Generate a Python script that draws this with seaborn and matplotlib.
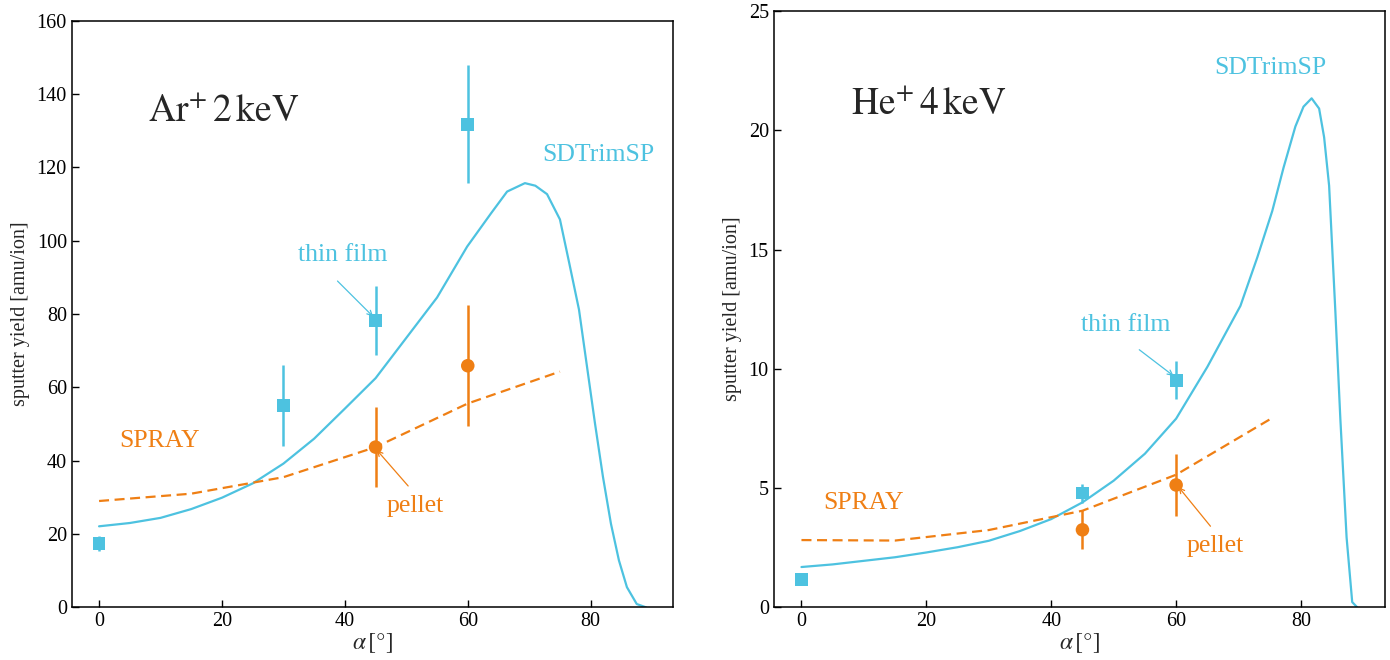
import numpy as np
import pandas as pd
import matplotlib
matplotlib.use("Agg")
import matplotlib.pyplot as plt
import seaborn as sns

# ─── Colours ─────────────────────────────────────────────────────────────────
CYAN   = "#4dc2e0"
ORANGE = "#ef7f14"

# ─── Ar+ 2 keV data ──────────────────────────────────────────────────────────
ar_sdtrim_x = [0, 5, 10, 15, 20, 25, 30, 35, 40, 45, 50, 55, 59.9, 63.8, 66.4,
               69.3, 71, 72.9, 75, 76.5, 78.1, 79.4, 80.7, 82, 83.3, 84.6, 85.9,
               87.5, 89]
ar_sdtrim_y = [22.1, 23.0, 24.4, 26.8, 29.9, 33.8, 39.2, 46.0, 54.2, 62.5, 73.5,
               84.5, 98.4, 107.5, 113.4, 115.7, 115.0, 112.7, 105.8, 94.0, 81.2,
               65.7, 50.2, 35.6, 22.8, 12.8, 5.5, 0.9, 0.0]
ar_spray_x = [0, 15, 30, 45, 60, 75]
ar_spray_y = [29.0, 31.0, 35.5, 43.7, 55.6, 64.3]
ar_film_x   = [0, 30, 45, 60]
ar_film_y   = [17.5, 55.0, 78.2, 131.8]
ar_film_err = [2.0, 11.0, 9.5, 16.0]
ar_pellet_x   = [45, 60]
ar_pellet_y   = [43.7, 65.9]
ar_pellet_err = [11.0, 16.5]

# ─── He+ 4 keV data ──────────────────────────────────────────────────────────
he_sdtrim_x = [0, 5, 10, 15, 20, 25, 30, 35, 40, 45, 50, 55, 60, 65, 70.3, 73,
               75.4, 77.2, 79.1, 80.4, 81.7, 82.9, 83.7, 84.5, 85.5, 86.3, 87.3,
               88.2, 89]
he_sdtrim_y = [1.69, 1.80, 1.95, 2.10, 2.30, 2.52, 2.79, 3.20, 3.70, 4.40, 5.31,
               6.44, 7.91, 10.08, 12.64, 14.67, 16.62, 18.43, 20.16, 20.99, 21.34,
               20.91, 19.71, 17.68, 12.41, 7.90, 2.93, 0.22, 0.0]
he_spray_x = [0, 15, 30, 45, 60, 75]
he_spray_y = [2.82, 2.80, 3.24, 4.05, 5.56, 7.88]
he_film_x   = [0, 45, 60]
he_film_y   = [1.17, 4.79, 9.52]
he_film_err = [0.1, 0.4, 0.8]
he_pellet_x   = [45, 60]
he_pellet_y   = [3.25, 5.13]
he_pellet_err = [0.82, 1.28]

sns.set_style("ticks")
plt.rcParams["font.family"] = ["Liberation Serif", "DejaVu Serif"]
plt.rcParams["mathtext.fontset"] = "stix"
plt.rcParams["axes.linewidth"] = 1.1
plt.rcParams["axes.edgecolor"] = "black"

fig = plt.figure(figsize=(13.9, 6.6), dpi=100)
ax1 = fig.add_axes([0.0516, 0.0798, 0.4328, 0.8888])
ax2 = fig.add_axes([0.5566, 0.0798, 0.4398, 0.9035])

LBL = 18.5


def draw_panel(ax, sd_x, sd_y, sp_x, sp_y, f_x, f_y, f_e, p_x, p_y, p_e):
    sns.lineplot(x=sd_x, y=sd_y, ax=ax, color=CYAN, lw=1.6, sort=False)
    sns.lineplot(x=sp_x, y=sp_y, ax=ax, color=ORANGE, lw=1.6,
                 linestyle=(0, (4.5, 2.5)), sort=False)
    ax.errorbar(f_x, f_y, yerr=f_e, fmt="none", ecolor=CYAN, elinewidth=1.8, capsize=0)
    ax.errorbar(p_x, p_y, yerr=p_e, fmt="none", ecolor=ORANGE, elinewidth=1.8, capsize=0)
    sns.scatterplot(x=f_x, y=f_y, ax=ax, marker="s", s=85, color=CYAN,
                    edgecolor="none", zorder=5)
    sns.scatterplot(x=p_x, y=p_y, ax=ax, marker="o", s=95, color=ORANGE,
                    edgecolor="none", zorder=5)
    ax.set_xlim(-4.45, 93.45)
    ax.set_xticks([0, 20, 40, 60, 80])
    ax.tick_params(direction="in", length=5, width=1.0, labelsize=14.5,
                   top=False, right=False, colors="black")
    ax.set_xlabel(r"$\alpha\,[°]$", fontsize=17, labelpad=0)
    ax.set_ylabel("sputter yield [amu/ion]", fontsize=14.5, labelpad=5)


arrow = dict(arrowstyle="->", lw=0.9, shrinkA=0, shrinkB=0, mutation_scale=9)

# ── Left: Ar+ 2 keV ─────────────────────────────────────────────────────
draw_panel(ax1, ar_sdtrim_x, ar_sdtrim_y, ar_spray_x, ar_spray_y,
           ar_film_x, ar_film_y, ar_film_err, ar_pellet_x, ar_pellet_y, ar_pellet_err)
ax1.set_ylim(0, 160)
ax1.set_yticks(range(0, 161, 20))
ax1.text(8.0, 132.7, r"$\mathrm{Ar}^{+}\,2\,\mathrm{keV}$", fontsize=27, va="baseline")
ax1.text(81.3, 123.4, "SDTrimSP", color=CYAN, fontsize=LBL, ha="center", va="center")
ax1.text(39.6, 96.1, "thin film", color=CYAN, fontsize=LBL, ha="center", va="center")
ax1.text(9.9, 45.4, "SPRAY", color=ORANGE, fontsize=LBL, ha="center", va="center")
ax1.text(51.5, 27.6, "pellet", color=ORANGE, fontsize=LBL, ha="center", va="center")
ax1.annotate("", xy=(44.6, 79.3), xytext=(38.8, 89.0),
             arrowprops=dict(arrow, color=CYAN))
ax1.annotate("", xy=(45.2, 42.9), xytext=(50.3, 33.1),
             arrowprops=dict(arrow, color=ORANGE))

# ── Right: He+ 4 keV ────────────────────────────────────────────────────
draw_panel(ax2, he_sdtrim_x, he_sdtrim_y, he_spray_x, he_spray_y,
           he_film_x, he_film_y, he_film_err, he_pellet_x, he_pellet_y, he_pellet_err)
ax2.set_ylim(0, 25)
ax2.set_yticks(range(0, 26, 5))
ax2.text(7.9, 20.7, r"$\mathrm{He}^{+}\,4\,\mathrm{keV}$", fontsize=27, va="baseline")
ax2.text(75.1, 22.6, "SDTrimSP", color=CYAN, fontsize=LBL, ha="center", va="center")
ax2.text(52.0, 11.84, "thin film", color=CYAN, fontsize=LBL, ha="center", va="center")
ax2.text(10.0, 4.38, "SPRAY", color=ORANGE, fontsize=LBL, ha="center", va="center")
ax2.text(66.2, 2.57, "pellet", color=ORANGE, fontsize=LBL, ha="center", va="center")
ax2.annotate("", xy=(59.6, 9.7), xytext=(54.1, 10.8),
             arrowprops=dict(arrow, color=CYAN))
ax2.annotate("", xy=(60.4, 5.04), xytext=(65.5, 3.4),
             arrowprops=dict(arrow, color=ORANGE))

fig.savefig("out.png", dpi=100)
plt.close(fig)
